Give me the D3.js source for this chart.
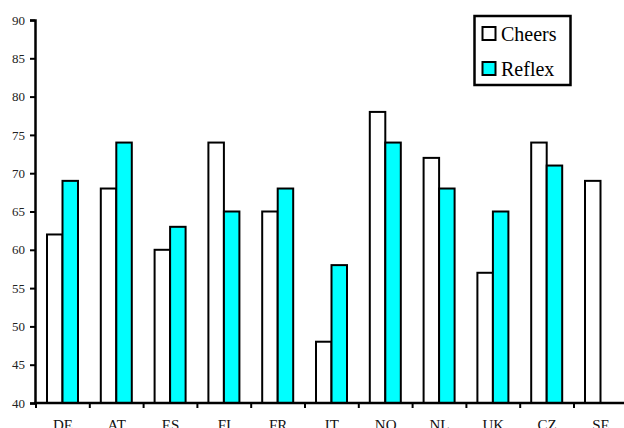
<!DOCTYPE html>
<html><head><meta charset="utf-8">
<script src="https://cdn.jsdelivr.net/npm/d3@7"></script>
<style>body{margin:0;background:#fff;overflow:hidden}svg{display:block}
text{font-family:"Liberation Serif","Times New Roman",Times,"DejaVu Serif",serif;}</style>
</head><body>
<script>
const categories = ["DE","AT","ES","FI","FR","IT","NO","NL","UK","CZ","SE"];
const seriesNames = ["Cheers","Reflex"];
const cheers = [62,68,60,74,65,48,78,72,57,74,69];
const reflex = [69,74,63,65,68,58,74,68,65,71,null];
const yTicks = [40,45,50,55,60,65,70,75,80,85,90];
const colors = {Cheers:"#ffffff", Reflex:"#00ffff"};

const W=624,H=428;
const svg=d3.select("body").append("svg").attr("width",W).attr("height",H);

const y=d3.scaleLinear().domain([40,90]).range([403,20]);
const x=d3.scaleBand().domain(categories).range([36,36+11*53.8]).padding(0);
const x1=d3.scaleBand().domain(seriesNames).range([11,42]).padding(0);

const data=categories.map((c,i)=>({cat:c,vals:[{s:"Cheers",v:cheers[i]},{s:"Reflex",v:reflex[i]}]}));

const g=svg.append("g");
g.selectAll("g.grp").data(data).join("g").attr("class","grp")
 .attr("transform",d=>`translate(${x(d.cat)},0)`)
 .selectAll("rect").data(d=>d.vals.filter(e=>e.v!=null)).join("rect")
 .attr("x",d=>x1(d.s)).attr("width",x1.bandwidth())
 .attr("y",d=>y(d.v)).attr("height",d=>y(40)-y(d.v))
 .attr("fill",d=>colors[d.s]).attr("stroke","#000").attr("stroke-width",2);

// y axis
const ya=svg.append("g").attr("transform","translate(35,0)")
 .call(d3.axisLeft(y).tickValues(yTicks).tickSize(5).tickPadding(5));
ya.attr("font-family",null);
ya.select(".domain").attr("stroke-width",2.5);
ya.selectAll(".tick line").attr("stroke-width",2);
ya.selectAll("text").attr("font-size",13).attr("fill","#222");

// x axis
const xa=svg.append("g").attr("transform","translate(0,403)");
xa.append("line").attr("x1",34).attr("x2",W).attr("y1",0).attr("y2",0).attr("stroke","#000").attr("stroke-width",2.5);
xa.selectAll("line.tk").data(categories).join("line").attr("class","tk")
 .attr("x1",d=>x(d)).attr("x2",d=>x(d)).attr("y1",0).attr("y2",5)
 .attr("stroke","#000").attr("stroke-width",2);
xa.selectAll("text").data(categories).join("text")
 .attr("x",d=>x(d)+x.bandwidth()/2).attr("y",27)
 .attr("text-anchor","middle").attr("font-size",15).attr("fill","#111")
 .text(d=>d);

// legend
const lg=svg.append("g");
lg.append("rect").attr("x",474.5).attr("y",16).attr("width",96).attr("height",69)
 .attr("fill","#fff").attr("stroke","#000").attr("stroke-width",2.5);
seriesNames.forEach((s,i)=>{
  const yy=27+i*35;
  lg.append("rect").attr("x",482.5).attr("y",yy).attr("width",13).attr("height",13)
   .attr("fill",colors[s]).attr("stroke","#000").attr("stroke-width",2);
  lg.append("text").attr("x",501).attr("y",yy+14).attr("font-size",20)
   .attr("fill","#000").text(s);
});
</script>
</body></html>
